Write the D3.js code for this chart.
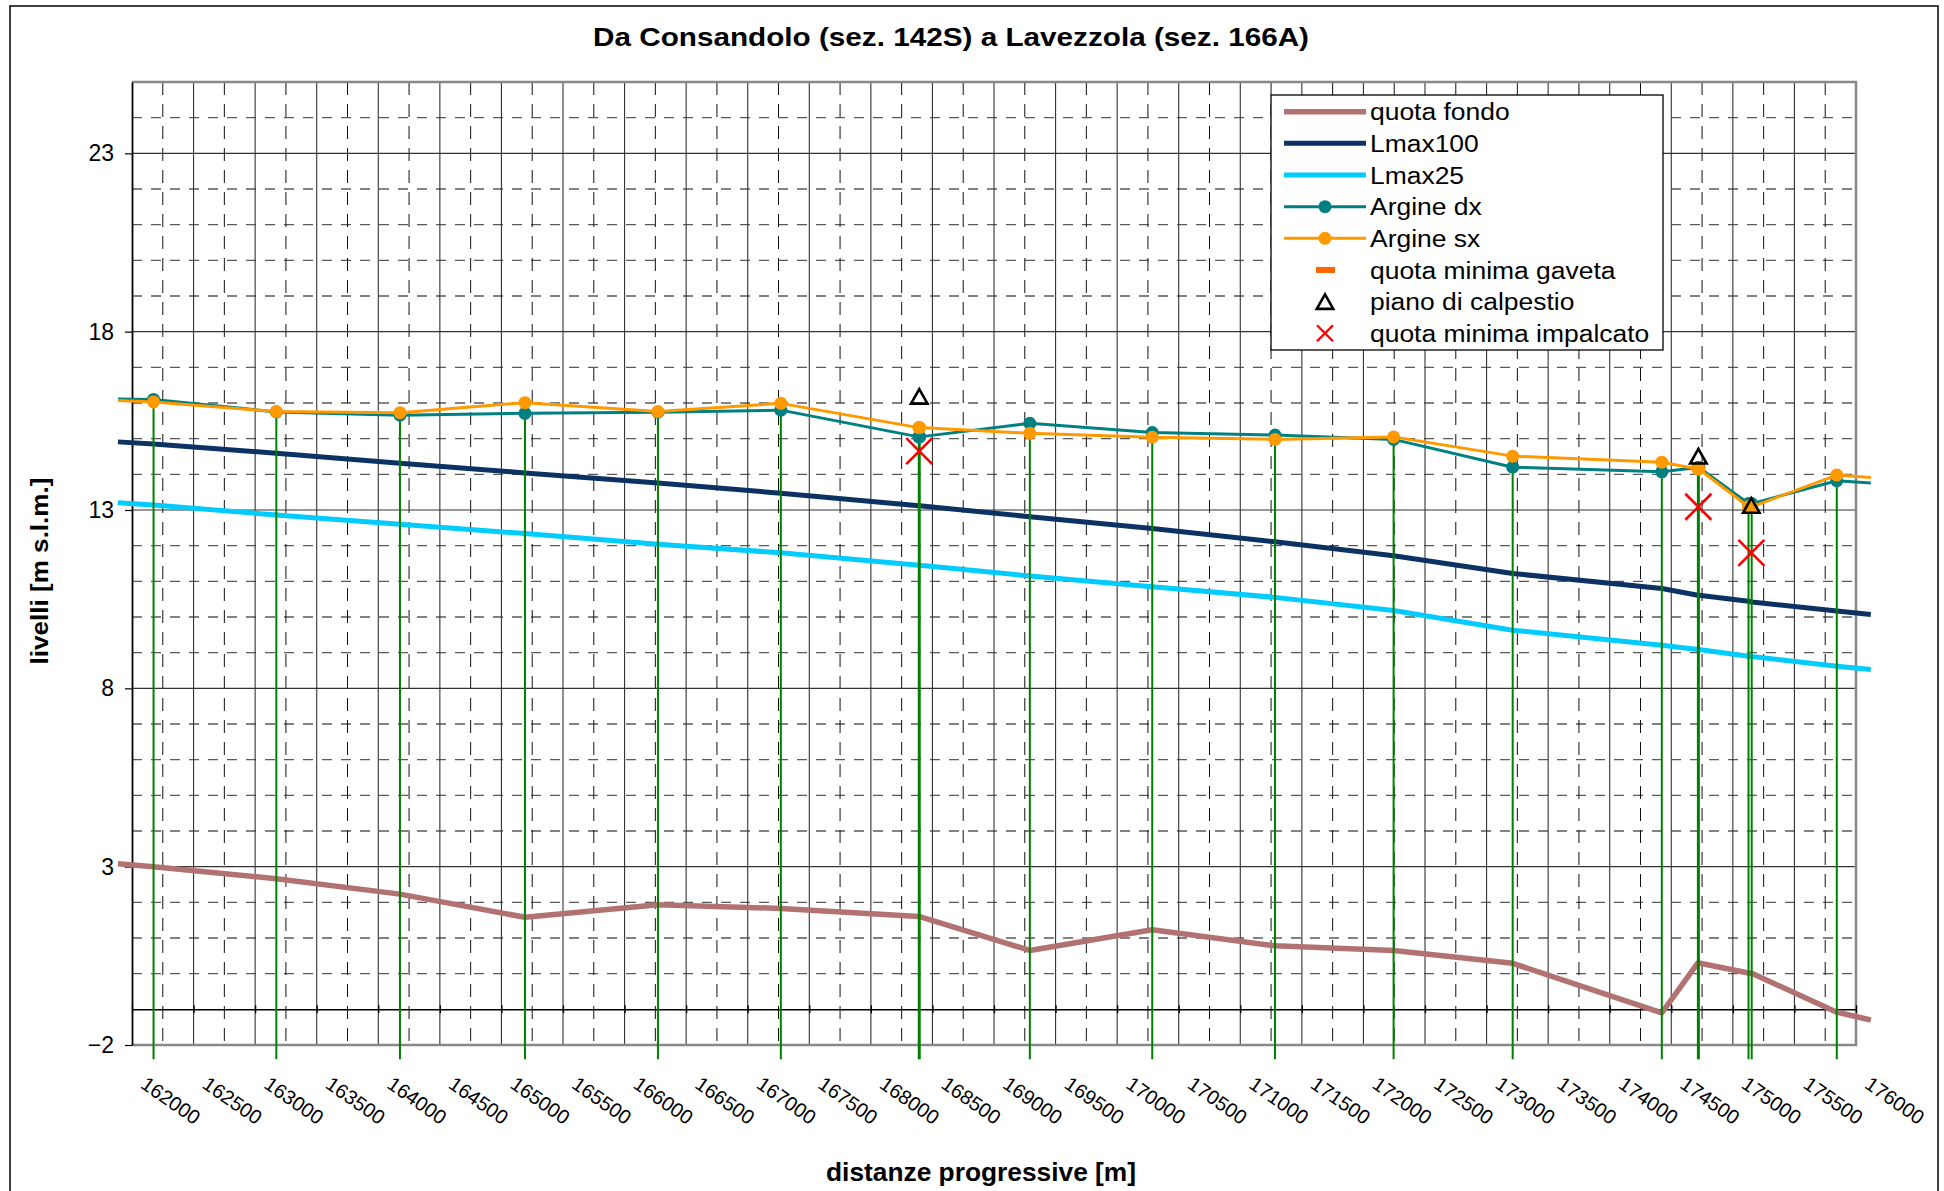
<!DOCTYPE html>
<html>
<head>
<meta charset="utf-8">
<script src="https://cdn.jsdelivr.net/npm/d3@7"></script>
<style>
  html, body { margin: 0; padding: 0; background: #fff; }
  svg { display: block; }
  text { font-family: "Liberation Sans", Arial, sans-serif; fill: #000; }
</style>
</head>
<body>
<svg id="chart" width="1944" height="1191"></svg>
<script>
// Progressive distances [m] of the cross sections (first and last are the line ends)
const progressive = [161886, 162175, 163172, 164176, 165191, 166271, 167269, 168389, 168397,
  169291, 170285, 171282, 172245, 173212, 174423, 174716, 174724, 175127, 175153, 175844, 176120];

// Levels [m s.l.m.] at each section
const quotaFondo = [3.08, 3.00, 2.66, 2.23, 1.58, 1.93, 1.83, 1.60, 1.60,
  0.65, 1.23, 0.78, 0.65, 0.29, -1.10, 0.30, 0.30, 0.02, 0.01, -1.08, -1.30];
const lmax100 = [14.91, 14.85, 14.59, 14.31, 14.04, 13.76, 13.47, 13.12, 13.12,
  12.81, 12.48, 12.11, 11.72, 11.22, 10.80, 10.61, 10.61, 10.44, 10.42, 10.17, 10.07];
const lmax25 = [13.20, 13.14, 12.86, 12.60, 12.34, 12.04, 11.80, 11.45, 11.45,
  11.15, 10.85, 10.55, 10.18, 9.63, 9.21, 9.09, 9.09, 8.90, 8.89, 8.62, 8.53];
const argineDx = [16.11, 16.10, 15.75, 15.66, 15.71, 15.74, 15.80, 15.05, 15.05,
  15.43, 15.17, 15.10, 14.98, 14.20, 14.07, 14.19, 14.19, 13.18, 13.18, 13.82, 13.76];
const argineSx = [16.07, 16.03, 15.76, 15.73, 16.01, 15.76, 15.99, 15.31, 15.31,
  15.15, 15.04, 14.98, 15.05, 14.51, 14.34, 14.15, 14.15, 13.09, 13.09, 13.98, 13.91];

// Bridges
const ponti = [168393, 174720, 175150];
const pianoCalpestio = [16.16, 14.48, 13.10];
const quotaImpalcato = [14.65, 13.09, 11.80];
const quotaGaveta = []; // no values in this reach

// Base level of the section markers
const sectionBase = -2.4;

// Axes
const xTicks = d3.range(162000, 176001, 500);
const xMinorTicks = d3.range(162250, 176000, 500);
const yTicks = [-2, 3, 8, 13, 18, 23];
const yMinorTicks = d3.range(-2, 26).filter(v => (v + 2) % 5 !== 0 && v !== -1 && v !== 25);

const legendLabels = ["quota fondo", "Lmax100", "Lmax25", "Argine dx", "Argine sx",
  "quota minima gaveta", "piano di calpestio", "quota minima impalcato"];

const colors = {
  fondo: "#B27272", l100: "#0B3263", l25: "#00CCFF", dx: "#008080",
  sx: "#FF9900", gaveta: "#FF6600", sez: "#008000", x: "#FF0000"
};

const svg = d3.select("#chart");
const x = d3.scaleLinear().domain([162000, 176000]).range([132, 1856]);
const y = d3.scaleLinear().domain([-2, 25]).range([1045, 82]);
const [X0, X1] = x.range();
const [Y0, Y1] = y.range();

// Outer frame
svg.append("rect").attr("x", 10).attr("y", 6).attr("width", 1928).attr("height", 1200)
  .attr("fill", "#fff").attr("stroke", "#000").attr("stroke-width", 1.5);

// Title
svg.append("text").attr("x", 951).attr("y", 46).attr("text-anchor", "middle")
  .attr("font-size", 26).attr("font-weight", "bold")
  .attr("textLength", 716).attr("lengthAdjust", "spacingAndGlyphs")
  .text("Da Consandolo (sez. 142S) a  Lavezzola (sez. 166A)");

// Grid
const grid = svg.append("g");
grid.selectAll(".hmin").data(yMinorTicks).join("line")
  .attr("x1", X0).attr("x2", X1).attr("y1", d => y(d)).attr("y2", d => y(d))
  .attr("stroke", "#5a5a5a").attr("stroke-width", 1.4).attr("stroke-dasharray", "10,9");
grid.selectAll(".vmin").data(xMinorTicks).join("line")
  .attr("x1", d => x(d)).attr("x2", d => x(d)).attr("y1", Y1).attr("y2", Y0)
  .attr("stroke", "#111").attr("stroke-width", 1).attr("stroke-dasharray", "13,9");
grid.selectAll(".vmaj").data(xTicks.slice(1, -1)).join("line")
  .attr("x1", d => x(d)).attr("x2", d => x(d)).attr("y1", Y1).attr("y2", Y0)
  .attr("stroke", "#333").attr("stroke-width", 1.1);
grid.selectAll(".hmaj").data(yTicks.slice(1)).join("line")
  .attr("x1", X0).attr("x2", X1).attr("y1", d => y(d)).attr("y2", d => y(d))
  .attr("stroke", "#333").attr("stroke-width", 1.1);

// Plot area frame (top, right, bottom)
svg.append("path")
  .attr("d", `M${X0},${Y1}H${X1}V${Y0}H${X0}`)
  .attr("fill", "none").attr("stroke", "#888").attr("stroke-width", 2.5);

// Horizontal axis line at -1 with ticks
const xAxisLine = svg.append("g").attr("transform", `translate(0,${y(-1)})`)
  .call(d3.axisBottom(x).tickValues(xTicks).tickSizeInner(4).tickSizeOuter(0).tickFormat(""));
xAxisLine.select(".domain").attr("stroke", "#000").attr("stroke-width", 1.5);
xAxisLine.selectAll(".tick line").attr("y1", -4).attr("stroke", "#000").attr("stroke-width", 1.3);

// Horizontal axis labels
const xAxisLabels = svg.append("g").attr("transform", `translate(0,${Y0})`)
  .call(d3.axisBottom(x).tickValues(xTicks).tickSize(0).tickFormat(d3.format("d")));
xAxisLabels.select(".domain").remove();
xAxisLabels.selectAll("text")
  .attr("font-family", "'Liberation Sans', Arial, sans-serif")
  .attr("font-size", 20).attr("fill", "#000")
  .attr("text-anchor", "start").attr("y", null).attr("dy", null)
  .attr("transform", "translate(7,42) rotate(35)");

// Vertical axis
const yAxis = svg.append("g").attr("transform", `translate(${X0},0)`)
  .call(d3.axisLeft(y).tickValues(yTicks).tickSizeInner(7).tickSizeOuter(0).tickPadding(11));
yAxis.select(".domain").attr("stroke", "#000").attr("stroke-width", 1.8);
yAxis.selectAll(".tick line").attr("stroke", "#000").attr("stroke-width", 1.2);
yAxis.selectAll("text").attr("font-family", "'Liberation Sans', Arial, sans-serif")
  .attr("font-size", 23).attr("fill", "#000");

// Axis titles
svg.append("text").attr("transform", "translate(48,571) rotate(-90)")
  .attr("text-anchor", "middle").attr("font-size", 24).attr("font-weight", "bold")
  .attr("textLength", 187).attr("lengthAdjust", "spacingAndGlyphs")
  .text("livelli [m s.l.m.]");
svg.append("text").attr("x", 981).attr("y", 1181).attr("text-anchor", "middle")
  .attr("font-size", 25).attr("font-weight", "bold")
  .attr("textLength", 310).attr("lengthAdjust", "spacingAndGlyphs")
  .text("distanze progressive [m]");

// Series lines
const line = vals => d3.line().x((d, i) => x(progressive[i])).y(d => y(d))(vals);
const series = svg.append("g");
series.append("path").attr("d", line(quotaFondo)).attr("fill", "none")
  .attr("stroke", colors.fondo).attr("stroke-width", 5.5).attr("stroke-linejoin", "round");
series.append("path").attr("d", line(lmax100)).attr("fill", "none")
  .attr("stroke", colors.l100).attr("stroke-width", 5).attr("stroke-linejoin", "round");
series.append("path").attr("d", line(lmax25)).attr("fill", "none")
  .attr("stroke", colors.l25).attr("stroke-width", 5).attr("stroke-linejoin", "round");

// Section verticals
const inDomain = progressive.map((p, i) => i).filter(i => progressive[i] >= 162000 && progressive[i] <= 176000);
svg.append("g").selectAll("line").data(inDomain).join("line")
  .attr("x1", i => x(progressive[i])).attr("x2", i => x(progressive[i]))
  .attr("y1", i => y(Math.max(argineDx[i], argineSx[i]))).attr("y2", y(sectionBase))
  .attr("stroke", colors.sez).attr("stroke-width", 2);

// Embankments
[[argineDx, colors.dx], [argineSx, colors.sx]].forEach(([vals, c]) => {
  const g = svg.append("g");
  g.append("path").attr("d", line(vals)).attr("fill", "none")
    .attr("stroke", c).attr("stroke-width", 3).attr("stroke-linejoin", "round");
  g.selectAll("circle").data(inDomain).join("circle")
    .attr("cx", i => x(progressive[i])).attr("cy", i => y(vals[i])).attr("r", 6.5)
    .attr("fill", c);
});

// Bridge markers
const tri = s => `M0,${-s * 0.55}L${s * 0.55},${s * 0.42}L${-s * 0.55},${s * 0.42}Z`;
svg.append("g").selectAll("path").data(ponti).join("path")
  .attr("transform", (d, i) => `translate(${x(d)},${y(pianoCalpestio[i])})`)
  .attr("d", tri(15)).attr("fill", "none").attr("stroke", "#000").attr("stroke-width", 2.6)
  .attr("stroke-linejoin", "miter");
svg.append("g").selectAll("path").data(ponti).join("path")
  .attr("transform", (d, i) => `translate(${x(d)},${y(quotaImpalcato[i])})`)
  .attr("d", "M-13,-13L13,13M13,-13L-13,13").attr("stroke", colors.x).attr("stroke-width", 2.6);
svg.append("g").selectAll("rect").data(quotaGaveta).join("rect")
  .attr("x", d => x(d.x) - 8).attr("y", d => y(d.v) - 2.5).attr("width", 16).attr("height", 5)
  .attr("fill", colors.gaveta);

// Legend
const lg = svg.append("g").attr("transform", "translate(1271,95)");
lg.append("rect").attr("width", 392).attr("height", 255).attr("fill", "#fff")
  .attr("stroke", "#000").attr("stroke-width", 1.3);
const rowY = i => 16.7 + i * 31.65;
lg.selectAll("text").data(legendLabels).join("text")
  .attr("transform", (d, i) => `translate(99,${rowY(i)}) scale(1.08,1)`)
  .attr("dy", "0.35em").attr("font-size", 24.5).text(d => d);
const swatch = [
  { c: colors.fondo, w: 5.5 }, { c: colors.l100, w: 5 }, { c: colors.l25, w: 5 },
  { c: colors.dx, w: 3, dot: true }, { c: colors.sx, w: 3, dot: true }
];
swatch.forEach((s, i) => {
  lg.append("line").attr("x1", 13).attr("x2", 95).attr("y1", rowY(i)).attr("y2", rowY(i))
    .attr("stroke", s.c).attr("stroke-width", s.w);
  if (s.dot) lg.append("circle").attr("cx", 54).attr("cy", rowY(i)).attr("r", 6.5).attr("fill", s.c);
});
lg.append("rect").attr("x", 45).attr("y", rowY(5) - 3).attr("width", 19).attr("height", 6)
  .attr("fill", colors.gaveta);
lg.append("path").attr("transform", `translate(54,${rowY(6) + 1})`).attr("d", tri(15))
  .attr("fill", "none").attr("stroke", "#000").attr("stroke-width", 2.6);
lg.append("path").attr("transform", `translate(54,${rowY(7)})`)
  .attr("d", "M-8,-8L8,8M8,-8L-8,8").attr("stroke", colors.x).attr("stroke-width", 2.4);
</script>
</body>
</html>
